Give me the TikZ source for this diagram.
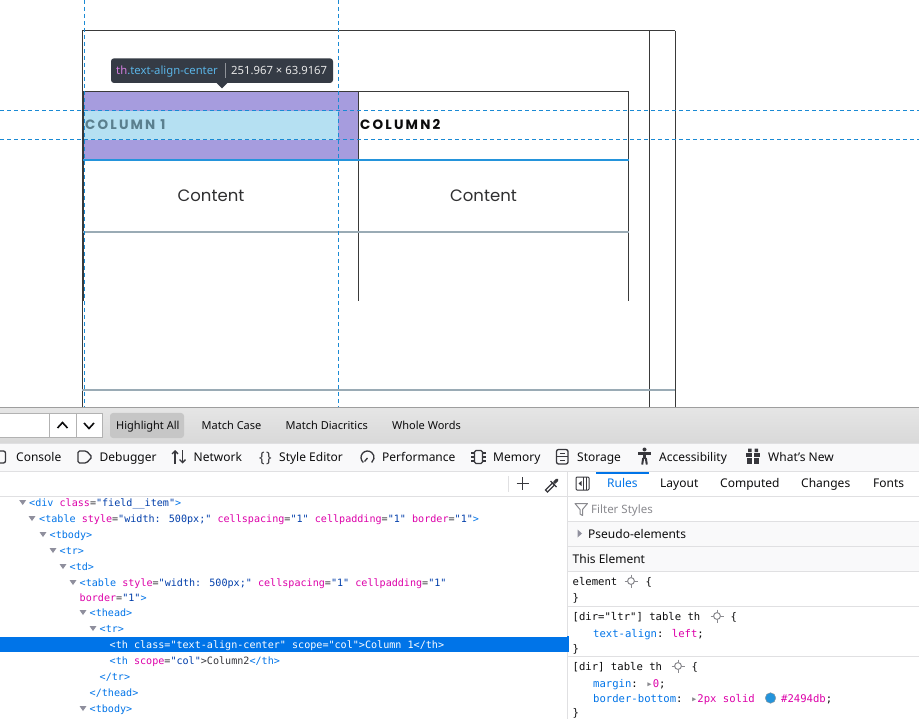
\documentclass[tikz,border=0pt]{standalone}
\usepackage{fontspec}
\setmainfont{Noto Sans}
\newfontfamily\codefont{DejaVu Sans Mono}
\newfontfamily\webfont[LetterSpace=16]{Poppins}
\newfontfamily\webplain{Poppins}
\usetikzlibrary{arrows.meta}
\definecolor{tagc}{HTML}{0074E8}
\definecolor{attc}{HTML}{DD00A9}
\definecolor{valc}{HTML}{003EAA}
\definecolor{punc}{HTML}{38383D}
\definecolor{dashc}{HTML}{1A8AD4}
\definecolor{purp}{HTML}{A69CDE}
\definecolor{lblue}{HTML}{B5E0F2}
\definecolor{colone}{HTML}{5A7F8E}
\definecolor{bordc}{HTML}{2494DB}
\definecolor{grayline}{HTML}{9AABB5}
\definecolor{tline}{HTML}{3A3A3A}
\definecolor{tipbg}{HTML}{353B45}
\definecolor{tipth}{HTML}{D37FE0}
\definecolor{tipcls}{HTML}{5AB4E6}
\definecolor{tipdim}{HTML}{E6E6E6}
\definecolor{hlbtn}{HTML}{C6C6C6}
\definecolor{tabbg}{HTML}{F9F9FA}
\definecolor{sepc}{HTML}{E0E0E2}
\definecolor{ink}{HTML}{0C0C0D}
\definecolor{iconc}{HTML}{38383D}
\definecolor{selbg}{HTML}{0074E8}
\definecolor{tric}{HTML}{8F8F9D}
\definecolor{faint}{HTML}{8A8A8F}
\newcommand\htag[1]{\textcolor{tagc}{#1}}
\newcommand\hatt[1]{\textcolor{attc}{#1}}
\newcommand\hval[1]{\textcolor{valc}{#1}}
\newcommand\hpun[1]{\textcolor{punc}{#1}}
\begin{document}
\begin{tikzpicture}[x=1pt,y=-1pt,
  code/.style={anchor=base west, inner sep=0, text=ink, font=\codefont\fontsize{10.1}{12}\selectfont},
  rcode/.style={anchor=base west, inner sep=0, text=ink, font=\codefont\fontsize{10.6}{12}\selectfont},
  ui/.style={anchor=base west, inner sep=0, text=ink, font=\fontsize{12}{14}\selectfont},
  fb/.style={anchor=base west, inner sep=0, text=ink, font=\fontsize{11}{13}\selectfont},
  tip/.style={anchor=base west, inner sep=0, font=\fontsize{11.3}{13}\selectfont},
  tl/.style={draw=tline, line width=1},
  gl/.style={draw=grayline, line width=2},
  dsh/.style={draw=dashc, line width=1, dash pattern=on 4pt off 3pt},
  icn/.style={draw=iconc, line width=1.3},
  sepl/.style={draw=sepc, line width=1},
  tri/.style={fill=tric}]
\useasboundingbox (0,0) rectangle (919,719);
\fill[white] (0,0) rectangle (919,719);

% ---------- page content ----------
\fill[purp] (83,91.5) rectangle (358,160);
\fill[lblue] (84,111) rectangle (338,140);
\draw[tl] (82,31) -- (675,31);
\draw[tl] (82,31) -- (82,407);
\draw[tl] (649,31) -- (649,407);
\draw[tl] (675,31) -- (675,407);
\draw[gl] (82,390.5) -- (675,390.5);
\draw[tl] (83,91.5) -- (628.5,91.5);
\draw[draw=tline, line width=1.6] (83.5,91.5) -- (83.5,301.5);
\draw[tl] (358.5,91.5) -- (358.5,301.5);
\draw[tl] (628.5,91.5) -- (628.5,301.5);
\draw[draw=bordc, line width=2] (83,160.5) -- (629,160.5);
\draw[gl] (83,232) -- (628.5,232);
\node[anchor=base west, inner sep=0, text=colone, font=\webfont\bfseries\fontsize{13.5}{15}\selectfont] (col1) at (85,130) {COLUMN 1};
\node[anchor=base west, inner sep=0, text=ink, font=\webfont\bfseries\fontsize{13.5}{15}\selectfont] (col2) at (360,130) {COLUMN2};
\node[anchor=base, inner sep=0, text=ink!85, font=\webplain\fontsize{16.5}{18}\selectfont] (cont1) at (211,202) {Content};
\node[anchor=base, inner sep=0, text=ink!85, font=\webplain\fontsize{16.5}{18}\selectfont] (cont2) at (483.5,202) {Content};

% tooltip
\fill[tipbg, rounded corners=3] (111,58.3) rectangle (333,83);
\fill[tipbg] (216,82.5) -- (228,82.5) -- (222,88.5) -- cycle;
\draw[draw=white!45!tipbg, line width=0.8] (225.5,63) -- (225.5,78);
\node[tip] (tipcls) at (116,74.5) {\textcolor{tipth}{th}\textcolor{tipcls}{.text-align-center}};
\node[tip, text=tipdim] (tipdim) at (231,74.5) {251.967 × 63.9167};

% dashed guides
\draw[dsh] (84.5,0) -- (84.5,407);
\draw[dsh] (338.5,0) -- (338.5,407);
\draw[dsh] (0,111) -- (919,111);
\draw[dsh] (0,140) -- (919,140);

% ---------- find bar ----------
\shade[top color=white!90!black, bottom color=white!85!black] (0,407.5) rectangle (919,443);
\draw[draw=white!62!black, line width=1] (0,407.5) -- (919,407.5);
\draw[draw=white!70!black, fill=white, line width=0.8] (-2,413) rectangle (49,437.5);
\draw[draw=white!70!black, fill=white, line width=0.8] (49,413) rectangle (76,437.5);
\draw[draw=white!70!black, fill=white, line width=0.8] (76,413) rectangle (102,437.5);
\draw[draw=ink, line width=1.6] (57.5,428) -- (62.5,422.5) -- (67.5,428);
\draw[draw=ink, line width=1.6] (84,423) -- (89,428.5) -- (94,423);
\fill[hlbtn, rounded corners=3] (110,413) rectangle (184,438);
\node[fb] (hl) at (116,430) {Highlight All};
\node[fb] (mc) at (201.5,430) {Match Case};
\node[fb] (md) at (285.5,430) {Match Diacritics};
\node[fb] (ww) at (392,430) {Whole Words};

% ---------- tab bar ----------
\fill[tabbg] (0,443) rectangle (919,471);
\draw[sepl] (0,443) -- (919,443);
\draw[sepl] (0,471.5) -- (919,471.5);
% icons
\draw[icn, rounded corners=2] (-6,451) rectangle (5.5,463);
\draw[icn, rounded corners=1.5] (78,451) -- (86.5,451) -- (92,457) -- (86.5,463) -- (78,463) -- cycle;
\draw[icn, -{Straight Barb[length=3pt,width=6pt]}] (175,463.5) -- (175,450);
\draw[icn, -{Straight Barb[length=3pt,width=6pt]}] (182.5,450) -- (182.5,463.5);
\node[anchor=base, inner sep=0, text=iconc, font=\bfseries\fontsize{14.5}{16}\selectfont] (bracesicon) at (265.5,462) {\{\hspace{1.5pt}\}};
\draw[icn] ([shift={(367.5,457.5)}]130:6.5) arc[start angle=130, end angle=410, radius=6.5];
\draw[icn] (367.5,458) -- (364.5,461.5);
\draw[icn, rounded corners=1.5] (474.5,450.5) rectangle (482.5,463.5);
\draw[icn] (471,453) -- (474.5,453) (471,457) -- (474.5,457) (471,461) -- (474.5,461)
           (482.5,453) -- (486,453) (482.5,457) -- (486,457) (482.5,461) -- (486,461);
\draw[icn, rounded corners=2] (556.5,449.5) rectangle (568,464);
\draw[icn] (556.5,456.8) -- (568,456.8);
\draw[icn] (560,453.5) -- (564.5,453.5) (560,460.5) -- (564.5,460.5);
\fill[iconc] (644.5,449.5) circle (2);
\draw[draw=iconc, line width=2.4] (638,453.5) -- (651,453.5);
\draw[draw=iconc, line width=3] (644.5,453) -- (644.5,459);
\draw[draw=iconc, line width=2] (643.2,458) -- (642.2,464.5) (645.8,458) -- (646.8,464.5);
\fill[iconc] (746,453) rectangle (760,456.5);
\fill[iconc] (747,457.5) rectangle (759,464);
\fill[white] (752.3,453) rectangle (753.7,464);
\fill[iconc] (748,448.5) rectangle (751.5,452) (754.5,448.5) rectangle (758,452);
% labels
\node[ui] (t1) at (16,461) {Console};
\node[ui] (t2) at (99.5,461) {Debugger};
\node[ui] (t3) at (193.5,461) {Network};
\node[ui] (t4) at (279,461) {Style Editor};
\node[ui] (t5) at (382,461) {Performance};
\node[ui] (t6) at (493,461) {Memory};
\node[ui] (t7) at (577,461) {Storage};
\node[ui] (t8) at (659,461) {Accessibility};
\node[ui] (t9) at (768,461) {What’s New};

% ---------- toolbar row ----------
\draw[sepl] (0,496.5) -- (919,496.5);
\draw[sepl] (567,471.5) -- (567,719);
\draw[sepl] (508,476) -- (508,492);
\draw[draw=iconc, line width=1.3] (516.5,483.5) -- (529,483.5) (522.75,477.3) -- (522.75,489.7);
\draw[draw=iconc, line width=1.1] (545.5,490) -- (552.5,483) -- (554.5,485) -- (547.5,492) -- cycle;
\draw[draw=iconc, line width=1.1] (550.5,481) -- (556.5,487);
\draw[draw=iconc, line width=3, line cap=round] (554.5,482.5) -- (557,480);
\draw[draw=iconc, line width=1, rounded corners=1] (576,477) rectangle (589,490);
\draw[draw=iconc, line width=1] (583.5,477) -- (583.5,490) (586.3,477) -- (586.3,490);
\fill[iconc] (578.5,483.5) -- (581.5,481) -- (581.5,486) -- cycle;
\draw[draw=tagc, line width=2] (596,472.5) -- (649,472.5);
\node[ui, text=tagc] (rules) at (607,487.5) {Rules};
\node[ui] (layout) at (660,487.5) {Layout};
\node[ui] (computed) at (720,487.5) {Computed};
\node[ui] (changes) at (801,487.5) {Changes};
\node[ui] (fonts) at (873,487.5) {Fonts};

% ---------- markup tree ----------
\fill[selbg] (0,636.5) rectangle (566.5,652);
\fill[tri] (19.2,500) -- (26.2,500) -- (22.7,505) -- cycle;
\fill[tri] (28.5,516) -- (35.5,516) -- (32,521) -- cycle;
\fill[tri] (39.5,532) -- (46.5,532) -- (43,537) -- cycle;
\fill[tri] (49.5,548) -- (56.5,548) -- (53,553) -- cycle;
\fill[tri] (59.5,564) -- (66.5,564) -- (63,569) -- cycle;
\fill[tri] (69.5,580) -- (76.5,580) -- (73,585) -- cycle;
\fill[tri] (79.5,610) -- (86.5,610) -- (83,615) -- cycle;
\fill[tri] (89.5,626) -- (96.5,626) -- (93,631) -- cycle;
\fill[tri] (79.5,706) -- (86.5,706) -- (83,711) -- cycle;
\node[code] (r1) at (29,506.5) {\htag{<div} \hatt{class}\hpun{=}\hval{"field\_\_item"}\htag{>}};
\node[code] (r2) at (39,522) {\htag{<table} \hatt{style}\hpun{=}\hval{"width: 500px;"} \hatt{cellspacing}\hpun{=}\hval{"1"} \hatt{cellpadding}\hpun{=}\hval{"1"} \hatt{border}\hpun{=}\hval{"1"}\htag{>}};
\node[code] (r3) at (49.5,538) {\htag{<tbody>}};
\node[code] (r4) at (59.5,554) {\htag{<tr>}};
\node[code] (r5) at (69.5,570) {\htag{<td>}};
\node[code] (r6) at (79.5,586) {\htag{<table} \hatt{style}\hpun{=}\hval{"width: 500px;"} \hatt{cellspacing}\hpun{=}\hval{"1"} \hatt{cellpadding}\hpun{=}\hval{"1"}};
\node[code] (r7) at (79.5,601) {\hatt{border}\hpun{=}\hval{"1"}\htag{>}};
\node[code] (r8) at (89.5,616) {\htag{<thead>}};
\node[code] (r9) at (99.5,632) {\htag{<tr>}};
\node[code, text=white] (r10) at (109.5,648) {<th class="text-align-center" scope="col">Column 1</th>};
\node[code] (r11) at (109.5,664) {\htag{<th} \hatt{scope}\hpun{=}\hval{"col"}\hpun{>Column2}\htag{</th>}};
\node[code] (r12) at (99.5,680) {\htag{</tr>}};
\node[code] (r13) at (89.5,696) {\htag{</thead>}};
\node[code] (r14) at (89.5,712) {\htag{<tbody>}};

% ---------- rules pane ----------
\draw[draw=faint, line width=1, line join=round] (575,503.5) -- (587.5,503.5) -- (582.5,509.5) -- (582.5,515.5) -- (580,514) -- (580,509.5) -- cycle;
\node[ui, text=faint, font=\fontsize{11.5}{13}\selectfont] (filter) at (591,513) {Filter Styles};
\draw[sepl] (567,521.5) -- (919,521.5);
\fill[tabbg] (567.5,522) rectangle (919,546);
\fill[tric] (577.5,529.5) -- (582,533.5) -- (577.5,537.5) -- cycle;
\node[ui] (pseudo) at (588,538) {Pseudo-elements};
\draw[sepl] (567,546.5) -- (919,546.5);
\fill[tabbg] (567.5,547) rectangle (919,571);
\node[ui] (thisel) at (572.5,563) {This Element};
\draw[sepl] (567,571.5) -- (919,571.5);
\node[rcode] (e1) at (572.5,585) {element};
\node[rcode] (e1b) at (645.5,585) {\{};
\node[rcode] (e2) at (572.5,601) {\}};
\draw[sepl] (567,606.5) -- (919,606.5);
\node[rcode] (s1) at (572.5,620) {[dir="ltr"] table th};
\node[rcode] (s1b) at (730.5,620) {\{};
\node[rcode] (s1p) at (593,637) {\htag{text-align}: \hatt{left};};
\node[rcode] (s1e) at (572.5,652) {\}};
\draw[draw=tagc, line width=2] (568,636) -- (568,652);
\draw[sepl] (567,656.5) -- (919,656.5);
\node[rcode] (s2) at (572.5,670) {[dir] table th};
\node[rcode] (s2b) at (691.5,670) {\{};
\node[rcode] (s2p) at (593,687) {\htag{margin}: \textcolor{faint}{▸}\hatt{0};};
\node[rcode] (s2q) at (593,702) {\htag{border-bottom}: \textcolor{faint}{▸}\hatt{2px solid}};
\filldraw[fill=bordc, draw=white!60!black, line width=0.4] (770.5,698) circle (5.3);
\node[rcode] (s2r) at (781,702) {\hatt{\#2494db};};
\node[rcode] (s2e) at (572.5,716) {\}};
% selector icons
\foreach \cx/\cy in {631/581, 717/616, 678/666} {
  \draw[draw=faint, line width=1] (\cx,\cy) circle (3.4);
  \draw[draw=faint, line width=1] (\cx-6.5,\cy) -- (\cx-3.4,\cy) (\cx+3.4,\cy) -- (\cx+6.5,\cy)
     (\cx,\cy-6.5) -- (\cx,\cy-3.4) (\cx,\cy+3.4) -- (\cx,\cy+6.5);
}
\end{tikzpicture}
\end{document}
